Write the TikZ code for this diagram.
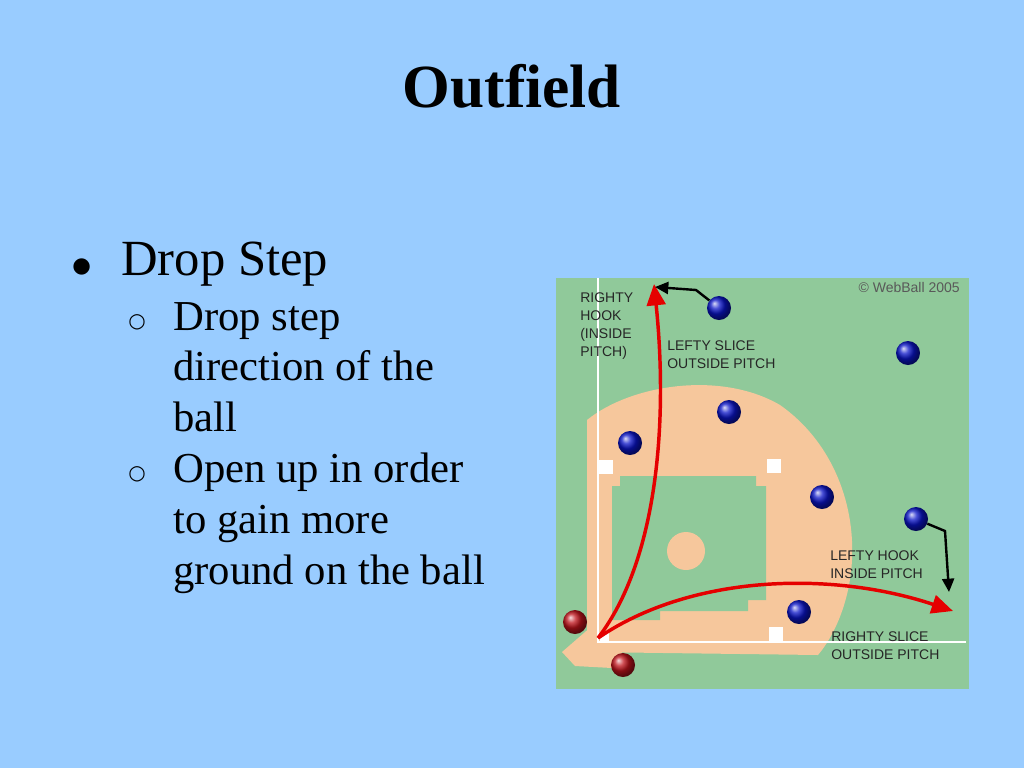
\documentclass[tikz,border=0pt]{standalone}
\usepackage{fontspec}
\setmainfont{Liberation Serif}
\newfontfamily\lsans{Liberation Sans}
\newfontfamily\djv{DejaVu Sans}
\usetikzlibrary{arrows.meta}
\definecolor{slide}{HTML}{99CCFF}
\definecolor{grass}{HTML}{90C99A}
\definecolor{dirt}{HTML}{F6C79C}
\definecolor{bl}{HTML}{0A14C8}
\definecolor{rd}{HTML}{C0141C}
\tikzset{
  lbl/.style={font=\lsans\fontsize{10.5}{13.5}\selectfont, align=left, anchor=north west, inner sep=0pt, text=black!85},
  blue ball/.style={circle, minimum size=18pt, inner sep=0pt, shading=ball, ball color=bl},
  red ball/.style={circle, minimum size=18pt, inner sep=0pt, shading=ball, ball color=rd},
  base/.style={fill=white, draw=none},
  redarrow/.style={draw=red!90!black, line width=2.6pt, -{Triangle[length=16pt,width=14pt]}},
  blackarrow/.style={draw=black, line width=1.8pt, -{Triangle[length=10pt,width=9pt]}},
}
\begin{document}
\begin{tikzpicture}[x=0.75pt,y=-0.75pt]
\fill[slide] (0,0) rectangle (1024,768);
\useasboundingbox (0,0) rectangle (1024,768);
\node (title) at (512,86) {\fontsize{46}{52}\selectfont\bfseries Outfield};
\node[anchor=base west, inner sep=0pt] (b1) at (72,272) {\djv\fontsize{16}{18}\selectfont ●};
\node[anchor=base west, inner sep=0pt] (t1) at (121,275) {\fontsize{38}{44}\selectfont Drop Step};
\foreach \y/\s/\t in {330/1/Drop step, 380/0/direction of the, 431/0/ball, 482/1/Open up in order, 533/0/to gain more, 584/0/ground on the ball}{
  \ifnum\s=1 \node[anchor=base west, inner sep=0pt] at (128,\y-3) {\djv\fontsize{15}{16}\selectfont ○};\fi
  \node[anchor=base west, inner sep=0pt] at (173,\y) {\fontsize{32}{38}\selectfont \t};
}
% field
\fill[grass] (556,278) rectangle (969,689);
\fill[dirt] (587,652) -- (587,420) .. controls (630,385) and (720,370) .. (780,405)
  .. controls (830,440) and (855,500) .. (852,560) .. controls (850,600) and (835,635) .. (818,655) -- cycle;
\fill[dirt] (562,652) -- (592,626) -- (630,640) -- (612,668) -- (575,666) -- cycle;
\fill[grass] (620,476) -- (756,476) -- (756,486) -- (766,486) -- (766,600) -- (748,600) -- (748,611) -- (660,611) -- (660,620) -- (612,620) -- (612,486) -- (620,486) -- cycle;
\fill[dirt] (686,551) circle (19);
\draw[white, line width=1.8pt] (598,278) -- (598,642) -- (966,642);
\fill[base] (599,460) rectangle (613,474);
\fill[base] (767,459) rectangle (781,473);
\fill[base] (769,627) rectangle (783,641);
\fill[base] (600,633) rectangle (609,643);
% balls
\node[blue ball] (p1) at (719,308) {};
\node[blue ball] (p2) at (908,353) {};
\node[blue ball] (p3) at (729,412) {};
\node[blue ball] (p4) at (630,443) {};
\node[blue ball] (p5) at (822,497) {};
\node[blue ball] (p6) at (916,519) {};
\node[blue ball] (p7) at (799,612) {};
\node[red ball] (r1) at (575,622) {};
\node[red ball] (r2) at (623,665) {};
\coordinate (home) at (598,638);
\coordinate (lf) at (654,284);
\coordinate (rf) at (953,611);
\coordinate (lfend) at (655,287);
\coordinate (rfend) at (949,592);
\draw[redarrow] (home) .. controls (658,560) and (668,420) .. (lf);
\draw[redarrow] (home) .. controls (690,575) and (830,570) .. (rf);
\draw[blackarrow] (p1) -- (696,290) -- (lfend);
\draw[blackarrow] (p6) -- (945,531) -- (rfend);
% labels
\node[lbl] (l1) at (580,292) {RIGHTY\\HOOK\\(INSIDE\\PITCH)};
\node[lbl] (l2) at (667,340) {LEFTY SLICE\\OUTSIDE PITCH};
\node[lbl] (l3) at (830,550) {LEFTY HOOK\\INSIDE PITCH};
\node[lbl] (l4) at (831,631) {RIGHTY SLICE\\OUTSIDE PITCH};
\node[lbl, anchor=north east, text=black!65] (cp) at (960,282) {\textcopyright\ WebBall 2005};
\end{tikzpicture}
\end{document}
